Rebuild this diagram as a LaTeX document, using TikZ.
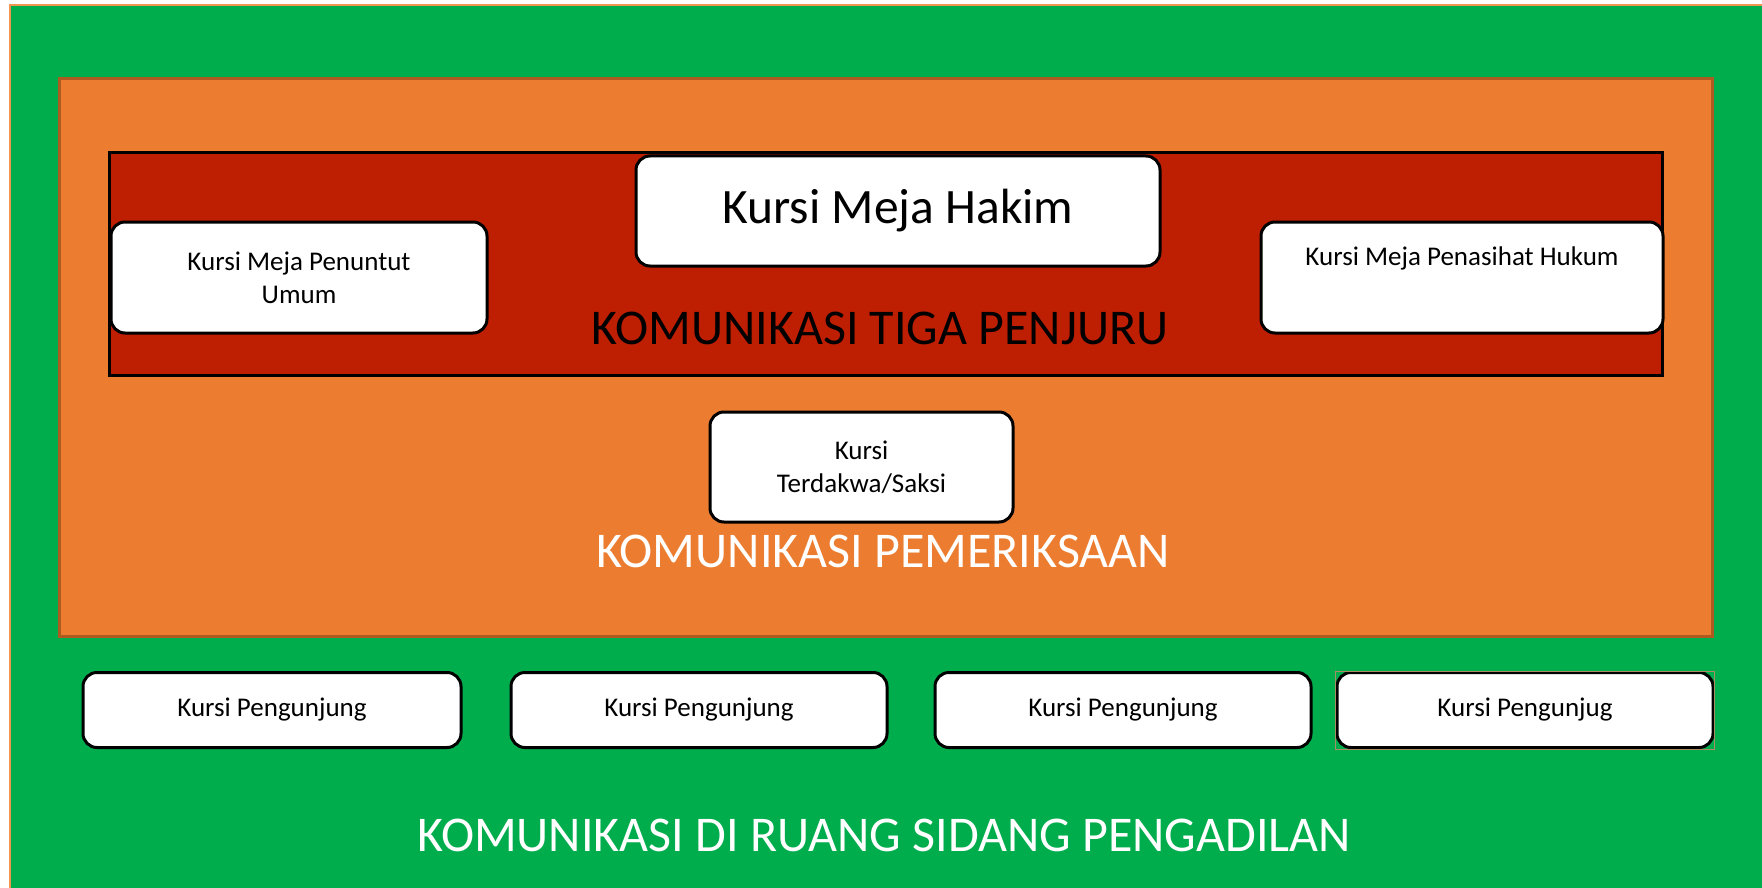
\documentclass[tikz,border=0pt]{standalone}
\usepackage{fontspec}
\setmainfont{Carlito}
\definecolor{grn}{RGB}{0,173,77}
\definecolor{org}{RGB}{236,125,48}
\definecolor{orgb}{RGB}{174,90,33}
\definecolor{redd}{RGB}{190,30,2}
\definecolor{lorg}{RGB}{240,150,80}
\definecolor{selframe}{RGB}{170,140,100}
\begin{document}
\begin{tikzpicture}[x=1pt,y=-1pt,
  seat/.style={draw=black, line width=3pt, fill=white, rounded corners=14pt,
    inner sep=0pt, align=center, font=\fontsize{27}{33}\selectfont},
  bigtitle/.style={inner sep=0pt, font=\fontsize{50}{58}\selectfont}]
\useasboundingbox (0,0) rectangle (1762,888);
\fill[white] (0,0) rectangle (1762,888);
\draw[lorg, line width=2pt, fill=grn] (10,5) rectangle (1763,892);
\draw[orgb, line width=3pt, fill=org] (59,79) rectangle (1712,636);
\draw[black, line width=3pt, fill=redd] (109,153) rectangle (1662,375);
\node[seat, minimum width=524pt, minimum height=110pt, font=\fontsize{49.5}{54}\selectfont] (hakim) at (898,211) {Kursi Meja Hakim};
\node[seat, minimum width=376pt, minimum height=111pt] (jpu) at (299,277.5) {Kursi Meja Penuntut\\Umum};
\node[seat, minimum width=402pt, minimum height=111pt] (ph) at (1462,277.5) {Kursi Meja Penasihat Hukum\\\strut};
\node[bigtitle, text=black] (tiga) at (880,328) {KOMUNIKASI TIGA PENJURU};
\node[seat, minimum width=303pt, minimum height=110pt] (terdakwa) at (861.5,467) {Kursi\\Terdakwa/Saksi};
\node[bigtitle, text=white] (periksa) at (883,551) {KOMUNIKASI PEMERIKSAAN};
\node[seat, minimum width=378pt, minimum height=75pt] (p1) at (272,710) {Kursi Pengunjung};
\node[seat, minimum width=376pt, minimum height=75pt] (p2) at (699,710) {Kursi Pengunjung};
\node[seat, minimum width=376pt, minimum height=75pt] (p3) at (1123,710) {Kursi Pengunjung};
\node[seat, minimum width=376pt, minimum height=75pt] (p4) at (1525,710) {Kursi Pengunjug};
\draw[selframe, line width=0.6pt] (p4.south west) rectangle (p4.north east);
\node[bigtitle, text=white] (ruang) at (884,835) {KOMUNIKASI DI RUANG SIDANG PENGADILAN};
\end{tikzpicture}
\end{document}
